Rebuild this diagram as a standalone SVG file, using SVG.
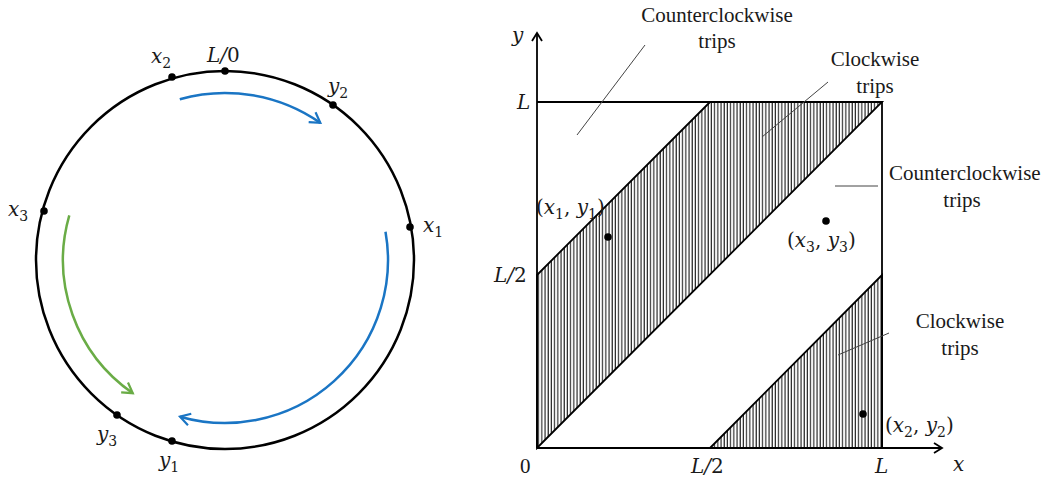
<svg xmlns="http://www.w3.org/2000/svg" width="1045" height="485" viewBox="0 0 1045 485">
<style>
.m{font-family:"DejaVu Serif","Liberation Serif",serif;font-style:italic;font-size:20px;fill:#1a1a1a}
.t{font-family:"Liberation Serif",serif;font-size:21px;fill:#1a1a1a}
.n{font-style:normal}
.sub{font-size:14px;font-style:normal}
.ax{stroke:#000;stroke-width:1.8;fill:none}
.lead{stroke:#444;stroke-width:1;fill:none}
.dot{fill:#000}
</style>
<defs>
<pattern id="hatch" width="3.2" height="10" patternUnits="userSpaceOnUse">
<line x1="1" y1="0" x2="1" y2="10" stroke="#000" stroke-width="1"/>
</pattern>
<marker id="ab" markerWidth="16" markerHeight="16" refX="12" refY="8" orient="auto" markerUnits="userSpaceOnUse">
<path d="M2,2 L12,8 L2,14" fill="none" stroke="#1a75c4" stroke-width="2.2"/>
</marker>
<marker id="ag" markerWidth="16" markerHeight="16" refX="12" refY="8" orient="auto" markerUnits="userSpaceOnUse">
<path d="M2,2 L12,8 L2,14" fill="none" stroke="#6aac46" stroke-width="2.2"/>
</marker>
<marker id="ak" markerWidth="14" markerHeight="14" refX="11" refY="7" orient="auto" markerUnits="userSpaceOnUse">
<path d="M3,2 L11,7 L3,12" fill="none" stroke="#000" stroke-width="1.8"/>
</marker>
</defs>

<g id="ring">
<circle cx="225" cy="260" r="189" fill="none" stroke="#000" stroke-width="2.5"/>
</g>
<g id="connectors">
<path d="M179.8,99.2 A167,167 0 0 1 320.3,122.9" fill="none" stroke="#1a75c4" stroke-width="2.5" marker-end="url(#ab)"/>
<path d="M385.5,231.7 A163,163 0 0 1 180,416.7" fill="none" stroke="#1a75c4" stroke-width="2.5" marker-end="url(#ab)"/>
<path d="M69.3,215.3 A162,162 0 0 0 132.8,393.2" fill="none" stroke="#6aac46" stroke-width="2.5" marker-end="url(#ag)"/>
</g>
<g id="point-L0"><circle class="dot" cx="225" cy="71" r="3.8"/><text class="m" x="207" y="62">L/<tspan class="n">0</tspan></text></g>
<g id="point-x2"><circle class="dot" cx="172" cy="77" r="3.8"/><text class="m" x="151" y="63">x<tspan class="sub" dy="5">2</tspan></text></g>
<g id="point-y2"><circle class="dot" cx="333" cy="105" r="3.8"/><text class="m" x="328" y="93">y<tspan class="sub" dy="5">2</tspan></text></g>
<g id="point-x1"><circle class="dot" cx="410" cy="227" r="3.8"/><text class="m" x="423" y="232">x<tspan class="sub" dy="5">1</tspan></text></g>
<g id="point-x3"><circle class="dot" cx="44" cy="211" r="3.8"/><text class="m" x="8" y="216">x<tspan class="sub" dy="5">3</tspan></text></g>
<g id="point-y3"><circle class="dot" cx="117" cy="415" r="3.8"/><text class="m" x="97" y="441">y<tspan class="sub" dy="5">3</tspan></text></g>
<g id="point-y1"><circle class="dot" cx="172" cy="441" r="3.8"/><text class="m" x="159" y="467">y<tspan class="sub" dy="5">1</tspan></text></g>

<g id="region-cw-upper">
<polygon points="537,275 710,102 882,102 537,448" fill="url(#hatch)" stroke="#000" stroke-width="1.8"/>
</g>
<g id="region-cw-lower">
<polygon points="710,448 882,275 882,448" fill="url(#hatch)" stroke="#000" stroke-width="1.8"/>
</g>
<g id="square">
<line class="ax" x1="537" y1="102" x2="882" y2="102"/>
<line class="ax" x1="882" y1="102" x2="882" y2="448"/>
</g>
<g id="axes">
<line class="ax" x1="537" y1="448" x2="537" y2="33" marker-end="url(#ak)"/>
<line class="ax" x1="537" y1="448" x2="942" y2="448" marker-end="url(#ak)"/>
<text class="m" x="512" y="42">y</text>
<text class="m" x="953" y="471">x</text>
<text class="m" x="517" y="109">L</text>
<text class="m" x="494" y="282">L/<tspan class="n">2</tspan></text>
<text class="t" x="520" y="473">0</text>
<text class="m" x="691" y="473">L/<tspan class="n">2</tspan></text>
<text class="m" x="875" y="473">L</text>
</g>
<g id="label-ccw-top">
<text class="t" x="717" y="22" text-anchor="middle">Counterclockwise</text>
<text class="t" x="717" y="48" text-anchor="middle">trips</text>
<line class="lead" x1="645" y1="45" x2="577" y2="135"/>
</g>
<g id="label-cw-top">
<text class="t" x="875" y="66" text-anchor="middle">Clockwise</text>
<text class="t" x="875" y="93" text-anchor="middle">trips</text>
<line class="lead" x1="828" y1="82" x2="762" y2="137"/>
</g>
<g id="label-ccw-right">
<text class="t" x="889" y="180" font-size="20">Counterclockwise</text>
<text class="t" x="962" y="207" text-anchor="middle">trips</text>
<line class="lead" x1="835" y1="186" x2="878" y2="186"/>
</g>
<g id="label-cw-lower">
<text class="t" x="960" y="328" text-anchor="middle">Clockwise</text>
<text class="t" x="960" y="355" text-anchor="middle">trips</text>
<line class="lead" x1="889" y1="333" x2="838" y2="355"/>
</g>
<g id="pt-x1y1"><circle class="dot" cx="608" cy="237" r="3.8"/><text class="m" x="536" y="214"><tspan class="n">(</tspan>x<tspan class="sub" dy="5">1</tspan><tspan class="n" dy="-5">, </tspan>y<tspan class="sub" dy="5">1</tspan><tspan class="n" dy="-5">)</tspan></text></g>
<g id="pt-x3y3"><circle class="dot" cx="826" cy="221" r="3.8"/><text class="m" x="787" y="247"><tspan class="n">(</tspan>x<tspan class="sub" dy="5">3</tspan><tspan class="n" dy="-5">, </tspan>y<tspan class="sub" dy="5">3</tspan><tspan class="n" dy="-5">)</tspan></text></g>
<g id="pt-x2y2"><circle class="dot" cx="863" cy="414" r="3.8"/><text class="m" x="885" y="432"><tspan class="n">(</tspan>x<tspan class="sub" dy="5">2</tspan><tspan class="n" dy="-5">, </tspan>y<tspan class="sub" dy="5">2</tspan><tspan class="n" dy="-5">)</tspan></text></g>
</svg>
